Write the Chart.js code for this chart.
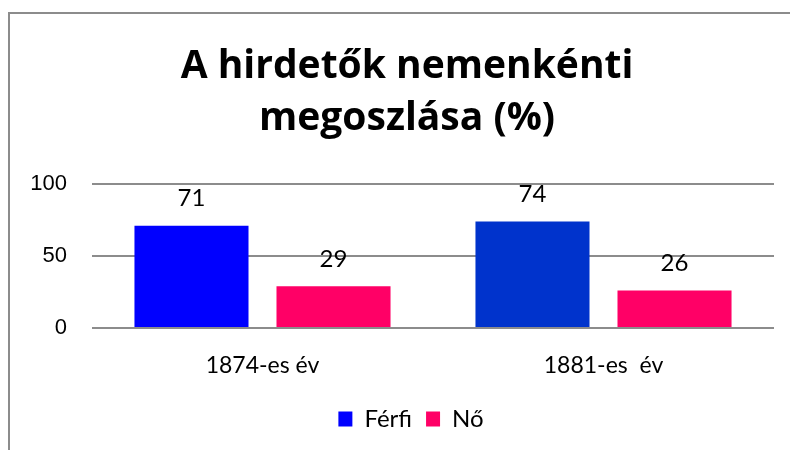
<!DOCTYPE html>
<html>
<head>
<meta charset="utf-8">
<script src="https://cdn.jsdelivr.net/npm/chart.js@4"></script>
<style>
    html, body { margin: 0; padding: 0; background: #fff; overflow: hidden; }
    #wrap { position: relative; width: 790px; height: 450px; }
    #frame {
        position: absolute; left: 8px; top: 12px; width: 820px; height: 480px;
        border-left: 2px solid #8c8c8c; border-top: 2px solid #8c8c8c;
    }
    canvas { position: absolute; left: 0; top: 0; }
</style>
</head>
<body>
<div id="wrap">
    <div id="frame"></div>
    <canvas id="chart" width="790" height="450"></canvas>
</div>
<script>
// chart data
const categories = ['1874-es év', '1881-es  év'];
const seriesNames = ['Férfi', 'Nő'];
const ferfiValues = [71, 74];
const noValues = [29, 26];
const yTicks = [0, 50, 100];

const ferfiColors = ['#0000ff', '#0033cc'];
const noColor = '#ff0066';

// draws the value above every bar
const valueLabels = {
    id: 'valueLabels',
    afterDatasetsDraw(chart) {
        const ctx = chart.ctx;
        ctx.save();
        ctx.font = '24px Lato, sans-serif';
        ctx.fillStyle = '#000';
        ctx.textAlign = 'center';
        ctx.textBaseline = 'middle';
        chart.data.datasets.forEach((ds, i) => {
            chart.getDatasetMeta(i).data.forEach((bar, j) => {
                ctx.fillText(ds.data[j], bar.x, bar.y - 27);
            });
        });
        ctx.restore();
    }
};

// the original has title and legend a little right of the centre
const nudgeBoxes = {
    id: 'nudgeBoxes',
    afterLayout(chart) {
        chart.titleBlock.left += 6;
        chart.titleBlock.right += 6;
        chart.legend.left += 10;
        chart.legend.right += 10;
    }
};

const ctx = document.getElementById('chart').getContext('2d');
new Chart(ctx, {
    type: 'bar',
    data: {
        labels: categories,
        datasets: [
            {
                label: seriesNames[0],
                data: ferfiValues,
                backgroundColor: ferfiColors,
                categoryPercentage: 0.833,
                barPercentage: 0.803
            },
            {
                label: seriesNames[1],
                data: noValues,
                backgroundColor: noColor,
                categoryPercentage: 0.833,
                barPercentage: 0.803
            }
        ]
    },
    options: {
        responsive: false,
        animation: false,
        layout: { padding: { left: 28, right: 16, top: 0, bottom: 9 } },
        plugins: {
            title: {
                display: true,
                text: ['A hirdetők nemenkénti', 'megoszlása (%)'],
                color: '#000',
                font: { family: '"Open Sans", sans-serif', size: 39, weight: 'bold', lineHeight: 1.333 },
                padding: { top: 41, bottom: 39 }
            },
            legend: {
                position: 'bottom',
                labels: {
                    color: '#000',
                    font: { family: 'Lato, sans-serif', size: 24 },
                    boxWidth: 14,
                    boxHeight: 15,
                    padding: 14
                }
            },
            tooltip: { enabled: false }
        },
        scales: {
            x: {
                grid: { display: false, drawTicks: false },
                border: { display: false },
                ticks: {
                    color: '#000',
                    font: { family: 'Lato, sans-serif', size: 23 },
                    padding: 24
                },
                afterFit: (scale) => { scale.height = 65; }
            },
            y: {
                min: 0,
                max: 100,
                afterBuildTicks: (scale) => {
                    scale.ticks = yTicks.map(v => ({ value: v }));
                },
                grid: { color: '#8c8c8c', lineWidth: 2, drawTicks: false },
                border: { display: false },
                ticks: {
                    color: '#000',
                    font: { family: '"Liberation Sans", Arial, sans-serif', size: 22 },
                    padding: 25
                },
                afterFit: (scale) => { scale.width = 64; }
            }
        }
    },
    plugins: [valueLabels, nudgeBoxes]
});
</script>
</body>
</html>
